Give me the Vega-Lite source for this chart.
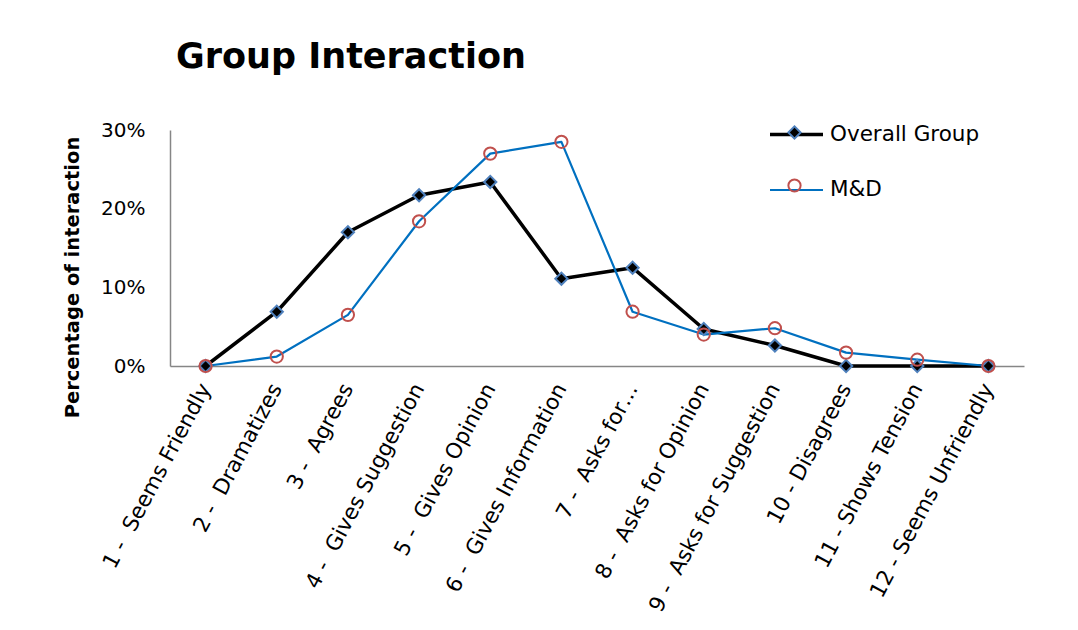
{
  "$schema": "https://vega.github.io/schema/vega-lite/v6.json",
  "autosize": "none",
  "width": 854,
  "height": 236,
  "padding": {"left": 170, "top": 130, "right": 54, "bottom": 264},
  "background": "white",
  "config": {"view": {"stroke": null}, "font": "DejaVu Sans"},
  "title": {"text": "Group Interaction", "anchor": "start", "frame": "group", "fontSize": 35, "fontWeight": "bold", "font": "DejaVu Sans", "color": "#000", "dx": 6, "offset": 31},
  "data": {"values": [
    {"cat": "1 - \u00a0Seems Friendly", "series": "Overall Group", "value": 0},
    {"cat": "2 - \u00a0Dramatizes", "series": "Overall Group", "value": 0.069},
    {"cat": "3 - \u00a0Agrees", "series": "Overall Group", "value": 0.170},
    {"cat": "4 - \u00a0Gives Suggestion", "series": "Overall Group", "value": 0.217},
    {"cat": "5 - \u00a0Gives Opinion", "series": "Overall Group", "value": 0.234},
    {"cat": "6 - \u00a0Gives Information", "series": "Overall Group", "value": 0.111},
    {"cat": "7 - \u00a0Asks for…", "series": "Overall Group", "value": 0.125},
    {"cat": "8 - \u00a0Asks for Opinion", "series": "Overall Group", "value": 0.047},
    {"cat": "9 - \u00a0Asks for Suggestion", "series": "Overall Group", "value": 0.026},
    {"cat": "10 - Disagrees", "series": "Overall Group", "value": 0},
    {"cat": "11 - Shows Tension", "series": "Overall Group", "value": 0},
    {"cat": "12 - Seems Unfriendly", "series": "Overall Group", "value": 0},
    {"cat": "1 - \u00a0Seems Friendly", "series": "M&D", "value": 0},
    {"cat": "2 - \u00a0Dramatizes", "series": "M&D", "value": 0.012},
    {"cat": "3 - \u00a0Agrees", "series": "M&D", "value": 0.065},
    {"cat": "4 - \u00a0Gives Suggestion", "series": "M&D", "value": 0.184},
    {"cat": "5 - \u00a0Gives Opinion", "series": "M&D", "value": 0.270},
    {"cat": "6 - \u00a0Gives Information", "series": "M&D", "value": 0.285},
    {"cat": "7 - \u00a0Asks for…", "series": "M&D", "value": 0.069},
    {"cat": "8 - \u00a0Asks for Opinion", "series": "M&D", "value": 0.040},
    {"cat": "9 - \u00a0Asks for Suggestion", "series": "M&D", "value": 0.048},
    {"cat": "10 - Disagrees", "series": "M&D", "value": 0.017},
    {"cat": "11 - Shows Tension", "series": "M&D", "value": 0.008},
    {"cat": "12 - Seems Unfriendly", "series": "M&D", "value": 0}
  ]},
  "encoding": {
    "x": {"field": "cat", "type": "nominal",
      "sort": ["1 - \u00a0Seems Friendly", "2 - \u00a0Dramatizes", "3 - \u00a0Agrees", "4 - \u00a0Gives Suggestion", "5 - \u00a0Gives Opinion", "6 - \u00a0Gives Information", "7 - \u00a0Asks for…", "8 - \u00a0Asks for Opinion", "9 - \u00a0Asks for Suggestion", "10 - Disagrees", "11 - Shows Tension", "12 - Seems Unfriendly"],
      "scale": {"type": "point", "padding": 0.5},
      "axis": {"title": null, "labelAngle": -62, "labelFontSize": 21.5, "labelFont": "DejaVu Sans", "labelColor": "#000", "domainColor": "#868686", "domainWidth": 1.5, "ticks": false, "labelPadding": 19, "labelLimit": 400, "labelOverlap": false, "grid": false}},
    "y": {"field": "value", "type": "quantitative",
      "scale": {"domain": [0, 0.3], "nice": false},
      "axis": {"values": [0, 0.1, 0.2, 0.3], "format": ".0%", "grid": false, "ticks": false, "domainColor": "#868686", "domainWidth": 1.5, "labelFontSize": 20, "labelFont": "DejaVu Sans", "labelColor": "#000", "labelPadding": 25, "title": "Percentage of interaction", "titleFont": "DejaVu Sans", "titleFontSize": 19.5, "titleFontWeight": "bold", "titleColor": "#000", "titlePadding": 18, "titleY": 147}}
  },
  "layer": [
    {
      "mark": {"type": "line", "strokeJoin": "round"},
      "encoding": {
        "color": {"field": "series", "type": "nominal",
          "scale": {"domain": ["M&D", "Overall Group"], "range": ["#0070C0", "#000000"]},
          "legend": {"orient": "none", "legendX": 598, "legendY": -24, "title": null, "values": ["Overall Group", "M&D"], "symbolType": "stroke", "symbolSize": 2809, "symbolStrokeWidth": 3, "labelFontSize": 21.5, "labelFont": "DejaVu Sans", "labelColor": "#000", "labelOffset": 5, "padding": 0, "rowPadding": 17,
            "encode": {"symbols": {"update": {"strokeWidth": {"signal": "datum.value === 'Overall Group' ? 3.5 : 2.2"}}}}}},
        "strokeWidth": {"field": "series", "type": "nominal", "scale": {"domain": ["M&D", "Overall Group"], "range": [2.2, 3.5]}, "legend": null}
      }
    },
    {
      "mark": {"type": "point", "size": 150, "strokeWidth": 2, "opacity": 1},
      "encoding": {
        "shape": {"field": "series", "type": "nominal",
          "scale": {"domain": ["Overall Group", "M&D"], "range": ["diamond", "circle"]},
          "legend": {"orient": "none", "legendX": 615, "legendY": -7, "title": null, "symbolSize": 150, "symbolStrokeWidth": 2, "symbolOpacity": 1, "labelExpr": "''", "labelFontSize": 19, "labelFont": "DejaVu Sans", "labelColor": "transparent", "padding": 0, "rowPadding": 32}},
        "fill": {"field": "series", "type": "nominal", "scale": {"domain": ["Overall Group", "M&D"], "range": ["#000000", "transparent"]},
          "legend": {"orient": "none", "legendX": 615, "legendY": -7, "title": null, "symbolSize": 150, "symbolStrokeWidth": 2, "symbolOpacity": 1, "labelExpr": "''", "labelFontSize": 19, "labelFont": "DejaVu Sans", "labelColor": "transparent", "padding": 0, "rowPadding": 32}},
        "stroke": {"field": "series", "type": "nominal", "scale": {"domain": ["Overall Group", "M&D"], "range": ["#4F81BD", "#C0504D"]},
          "legend": {"orient": "none", "legendX": 615, "legendY": -7, "title": null, "symbolSize": 150, "symbolStrokeWidth": 2, "symbolOpacity": 1, "labelExpr": "''", "labelFontSize": 19, "labelFont": "DejaVu Sans", "labelColor": "transparent", "padding": 0, "rowPadding": 32}}
      }
    }
  ]
}
